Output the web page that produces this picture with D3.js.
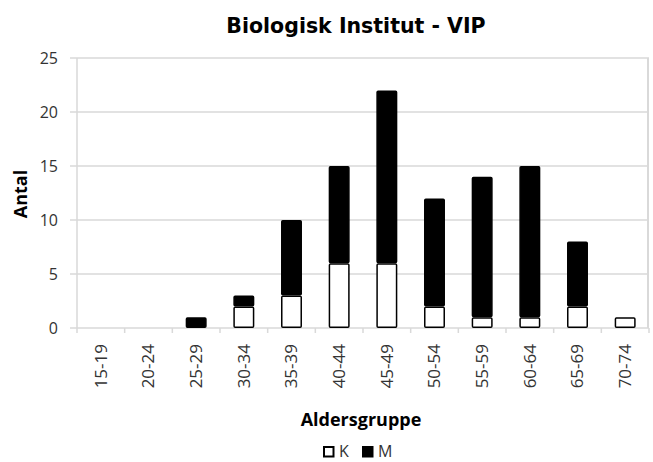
<!DOCTYPE html>
<html>
<head>
<meta charset="utf-8">
<script src="https://cdn.jsdelivr.net/npm/d3@7"></script>
<style>
  body { margin: 0; background: #fff; }
  text { font-family: "Open Sans", "Noto Sans", sans-serif; }
  text.title { font-family: "DejaVu Sans", sans-serif; }
</style>
</head>
<body>
<div id="chart"></div>
<script>
const ageGroups = ['15-19', '20-24', '25-29', '30-34', '35-39', '40-44', '45-49', '50-54', '55-59', '60-64', '65-69', '70-74'];
const kValues = [0, 0, 0, 2, 3, 6, 6, 2, 1, 1, 2, 1];
const mValues = [0, 0, 1, 1, 7, 9, 16, 10, 13, 14, 6, 0];
const yTickValues = [0, 5, 10, 15, 20, 25];
const seriesNames = ['K', 'M'];

const width = 653, height = 462;
const margin = {top: 58, right: 4, bottom: 134, left: 77};
const innerW = width - margin.left - margin.right;
const innerH = height - margin.top - margin.bottom;

const rows = ageGroups.map((g, i) => ({group: g, K: kValues[i], M: mValues[i]}));
const stacked = d3.stack().keys(seriesNames)(rows);

const x = d3.scaleBand().domain(ageGroups).range([0, innerW]).paddingInner(0.56).paddingOuter(0.28);
const y = d3.scaleLinear().domain([0, 25]).range([innerH, 0]);

const svg = d3.select('#chart').append('svg')
  .attr('width', width)
  .attr('height', height);

svg.append('text')
  .attr('class', 'title')
  .attr('x', 356).attr('y', 33)
  .attr('text-anchor', 'middle')
  .attr('font-size', 20.5).attr('font-weight', 'bold')
  .text('Biologisk Institut - VIP');

const g = svg.append('g').attr('transform', `translate(${margin.left},${margin.top})`);

// gridlines
g.append('g').selectAll('line')
  .data(yTickValues)
  .enter().append('line')
  .attr('x1', -7).attr('x2', innerW)
  .attr('y1', d => y(d)).attr('y2', d => y(d))
  .attr('stroke', '#d9d9d9').attr('stroke-width', 1.5);

// left and right frame
g.append('line').attr('x1', 0).attr('x2', 0).attr('y1', 0).attr('y2', innerH)
  .attr('stroke', '#d9d9d9').attr('stroke-width', 1.5);
g.append('line').attr('x1', innerW - 1).attr('x2', innerW - 1).attr('y1', 0).attr('y2', innerH)
  .attr('stroke', '#d9d9d9').attr('stroke-width', 2);

// x category ticks
g.append('g').selectAll('line')
  .data(d3.range(ageGroups.length + 1))
  .enter().append('line')
  .attr('x1', i => i * innerW / ageGroups.length).attr('x2', i => i * innerW / ageGroups.length)
  .attr('y1', innerH).attr('y2', innerH + 5)
  .attr('stroke', '#d9d9d9').attr('stroke-width', 1.5);

// y tick labels
g.append('g').selectAll('text')
  .data(yTickValues)
  .enter().append('text')
  .attr('x', -19).attr('y', d => y(d))
  .attr('dy', '0.35em')
  .attr('text-anchor', 'end')
  .attr('font-size', 16).attr('fill', '#333')
  .text(d => d);

// x tick labels
g.append('g').selectAll('text')
  .data(ageGroups)
  .enter().append('text')
  .attr('transform', d => `translate(${x(d) + x.bandwidth() / 2},${innerH + 16}) rotate(-90)`)
  .attr('dy', '0.35em')
  .attr('text-anchor', 'end')
  .attr('font-size', 17).attr('fill', '#333')
  .text(d => d);

// bars
stacked.forEach(layer => {
  const isK = layer.key === 'K';
  g.append('g').selectAll('rect')
    .data(layer.filter(d => d[1] - d[0] > 0))
    .enter().append('rect')
    .attr('x', d => x(d.data.group) + 0.75)
    .attr('width', x.bandwidth() - 1.5)
    .attr('y', d => y(d[1]) + 0.75)
    .attr('height', d => y(d[0]) - y(d[1]) - 1.5)
    .attr('fill', isK ? '#fff' : '#000')
    .attr('stroke', '#000').attr('stroke-width', 1.5)
    .attr('rx', 1);
});

// axis titles
svg.append('text')
  .attr('transform', `translate(27,194) rotate(-90)`)
  .attr('text-anchor', 'middle')
  .attr('font-size', 18).attr('font-weight', 'bold')
  .text('Antal');

svg.append('text')
  .attr('x', 361).attr('y', 426)
  .attr('text-anchor', 'middle')
  .attr('font-size', 18).attr('font-weight', 'bold')
  .text('Aldersgruppe');

// legend
const legend = svg.append('g').attr('transform', 'translate(323,457)');
const legendItem = legend.selectAll('g')
  .data(seriesNames)
  .enter().append('g')
  .attr('transform', (d, i) => `translate(${i * 39},0)`);
legendItem.append('rect')
  .attr('x', 1).attr('y', -10)
  .attr('width', 9.5).attr('height', 9.5)
  .attr('fill', d => d === 'K' ? '#fff' : '#000')
  .attr('stroke', '#000').attr('stroke-width', 2);
legendItem.append('text')
  .attr('x', 16).attr('y', 0)
  .attr('font-size', 16).attr('fill', '#333')
  .text(d => d);
</script>
</body>
</html>
